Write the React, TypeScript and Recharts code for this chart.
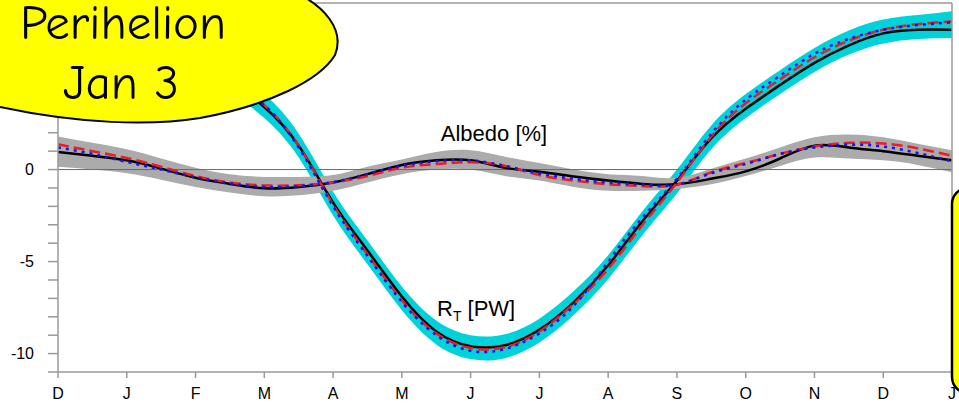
import { Area, ComposedChart, Line, ReferenceLine, XAxis, YAxis } from "recharts";

// sample positions in months from Dec (0) to the next Jan (13), half-month steps
const MONTH_T = [
  0, 0.5, 1, 1.5, 2, 2.5, 3, 3.5, 4, 4.5, 5, 5.5, 6, 6.5, 7, 7.5, 8, 8.5, 9, 9.5, 10, 10.5, 11, 11.5, 12, 12.5, 13,
];
const MONTH_TICKS = [0, 1, 2, 3, 4, 5, 6, 7, 8, 9, 10, 11, 12, 13];
const MONTH_LABELS = ["D", "J", "F", "M", "A", "M", "J", "J", "A", "S", "O", "N", "D", "J"];
const Y_TICKS = [-11, -10, -9, -8, -7, -6, -5, -4, -3, -2, -1, 0, 1, 2, 3, 4, 5, 6, 7, 8, 9];

// R_T [PW]
const RT_BLACK = [
  7.3, 7.5, 7.6, 7.0, 6.0, 4.8, 3.4, 1.3, -1.8, -4.4, -6.9, -8.8, -9.6, -9.55, -8.7, -7.2, -5.2, -2.8, -0.6, 1.7,
  3.3, 4.6, 5.8, 6.75, 7.4, 7.6, 7.6,
];
const RT_RED = [
  7.4, 7.6, 7.6, 7.1, 6.1, 4.9, 3.5, 1.3, -1.9, -4.6, -7.1, -8.9, -9.7, -9.65, -8.8, -7.3, -5.4, -3.0, -0.7, 1.8,
  3.6, 4.9, 6.1, 7.0, 7.6, 7.9, 8.05,
];
const RT_BLUE = [
  7.4, 7.6, 7.6, 7.1, 6.1, 4.9, 3.5, 1.2, -2.0, -4.7, -7.2, -9.0, -9.85, -9.75, -8.9, -7.4, -5.0, -2.6, -0.5, 1.95,
  3.8, 5.1, 6.3, 7.1, 7.6, 7.85, 8.0,
];
const RT_LOW = [
  6.7, 6.9, 6.95, 6.4, 5.4, 4.2, 2.8, 0.65, -2.5, -5.15, -7.65, -9.5, -10.3, -10.25, -9.4, -7.9, -5.95, -3.55, -1.3,
  1.1, 2.8, 4.1, 5.3, 6.25, 6.85, 7.1, 7.15,
];
const RT_HIGH = [
  8.0, 8.2, 8.25, 7.7, 6.7, 5.5, 4.1, 1.95, -1.2, -3.85, -6.35, -8.2, -9.0, -8.95, -8.1, -6.6, -4.65, -2.25, 0.0, 2.4,
  4.1, 5.4, 6.6, 7.55, 8.15, 8.4, 8.6,
];

// Albedo [%]
const ALB_BLACK = [
  0.96, 0.75, 0.5, 0.05, -0.45, -0.78, -1.02, -0.95, -0.7, -0.25, 0.25, 0.5, 0.5, 0.1, -0.12, -0.38, -0.6, -0.78,
  -0.8, -0.5, -0.1, 0.6, 1.3, 1.2, 1.0, 0.75, 0.5,
];
const ALB_RED = [
  1.38, 1.0, 0.63, 0.15, -0.35, -0.7, -0.86, -0.85, -0.7, -0.35, 0.1, 0.3, 0.4, 0.2, -0.3, -0.6, -0.8, -0.9, -0.82,
  -0.15, 0.35, 0.85, 1.25, 1.45, 1.42, 1.15, 0.75,
];
const ALB_BLUE = [
  1.2, 0.85, 0.41, 0.0, -0.42, -0.75, -0.95, -0.9, -0.68, -0.25, 0.2, 0.45, 0.5, 0.2, -0.2, -0.5, -0.7, -0.82, -0.82,
  -0.2, 0.3, 0.85, 1.2, 1.35, 1.25, 0.9, 0.45,
];
const ALB_LOW = [
  0.15, 0.0, -0.2, -0.55, -0.95, -1.25, -1.45, -1.4, -1.15, -0.7, -0.25, 0.0, 0.0, -0.35, -0.6, -0.95, -1.15, -1.15,
  -1.05, -0.8, -0.35, 0.2, 0.65, 0.6, 0.5, 0.25, -0.15,
];
const ALB_HIGH = [
  1.8, 1.45, 1.1, 0.6, 0.1, -0.25, -0.4, -0.4, -0.3, 0.15, 0.55, 0.95, 1.05, 0.7, 0.35, 0.0, -0.25, -0.35, -0.45,
  0.05, 0.6, 1.2, 1.75, 1.9, 1.75, 1.4, 1.05,
];

const data = MONTH_T.map((t, i) => ({
  t,
  rtBand: [RT_LOW[i], RT_HIGH[i]],
  albBand: [ALB_LOW[i], ALB_HIGH[i]],
  rtBlack: RT_BLACK[i],
  rtRed: RT_RED[i],
  rtBlue: RT_BLUE[i],
  albBlack: ALB_BLACK[i],
  albRed: ALB_RED[i],
  albBlue: ALB_BLUE[i],
}));

const AXIS = "#9a9a9a";
const FONT = '"Liberation Sans", Arial, Helvetica, sans-serif';
const tickStyle = { fill: "#000", fontSize: 16, fontFamily: FONT };
const CURVE = "natural";

export default function App() {
  return (
    <div style={{ position: "absolute", left: 0, top: 0, width: 959, height: 406, background: "#fff" }}>
      <ComposedChart width={959} height={406} data={data} margin={{ top: 0, right: 0, bottom: 0, left: 0 }}>
        <XAxis
          dataKey="t"
          type="number"
          domain={[0, 13]}
          ticks={MONTH_TICKS}
          tickFormatter={(v) => MONTH_LABELS[v] ?? ""}
          height={34}
          tickSize={6}
          tickMargin={10}
          stroke={AXIS}
          strokeWidth={1.5}
          tick={tickStyle}
          interval={0}
        />
        <XAxis
          xAxisId="top"
          orientation="top"
          type="number"
          dataKey="t"
          domain={[0, 13]}
          ticks={MONTH_TICKS}
          tick={false}
          height={3}
          tickSize={4}
          stroke={AXIS}
          strokeWidth={1.5}
        />
        <YAxis
          type="number"
          domain={[-11, 9.05]}
          ticks={Y_TICKS}
          interval={0}
          tickFormatter={(v) => (v % 5 === 0 ? String(v) : "")}
          width={58}
          tickSize={10}
          tickMargin={14}
          stroke={AXIS}
          strokeWidth={1.5}
          tick={tickStyle}
          allowDataOverflow
        />
        <YAxis
          yAxisId="right"
          orientation="right"
          type="number"
          domain={[-11, 9.05]}
          ticks={Y_TICKS}
          interval={0}
          tick={false}
          width={7}
          tickSize={7}
          stroke={AXIS}
          strokeWidth={1.5}
          allowDataOverflow
        />

        <Area type={CURVE} dataKey="rtBand" stroke="none" fill="#00d2da" fillOpacity={1} isAnimationActive={false} />
        <Area type={CURVE} dataKey="albBand" stroke="none" fill="#ababab" fillOpacity={1} isAnimationActive={false} />
        <ReferenceLine y={0} stroke="#6a6a6a" strokeWidth={1} />

        <Line type={CURVE} dataKey="albBlack" stroke="#000" strokeWidth={2.5} dot={false} activeDot={false} isAnimationActive={false} />
        <Line type={CURVE} dataKey="albRed" stroke="#ee1c25" strokeWidth={2.5} strokeDasharray="11 5" dot={false} activeDot={false} isAnimationActive={false} />
        <Line type={CURVE} dataKey="albBlue" stroke="#1414e6" strokeWidth={2.5} strokeDasharray="3 5" dot={false} activeDot={false} isAnimationActive={false} />
        <Line type={CURVE} dataKey="rtBlack" stroke="#000" strokeWidth={2.5} dot={false} activeDot={false} isAnimationActive={false} />
        <Line type={CURVE} dataKey="rtRed" stroke="#ee1c25" strokeWidth={2.5} strokeDasharray="11 5" dot={false} activeDot={false} isAnimationActive={false} />
        <Line type={CURVE} dataKey="rtBlue" stroke="#1414e6" strokeWidth={2.5} strokeDasharray="3 5" dot={false} activeDot={false} isAnimationActive={false} />
      </ComposedChart>

      {/* annotations */}
      <svg width={959} height={406} style={{ position: "absolute", left: 0, top: 0, pointerEvents: "none" }}>
        <text x={494} y={141} textAnchor="middle" fontSize={22} fontFamily={FONT} fill="#000">
          Albedo [%]
        </text>
        <text x={437} y={316} fontSize={22} fontFamily={FONT} fill="#000">
          R<tspan fontSize={14} dy={5}>T</tspan>
          <tspan dy={-5}> [PW]</tspan>
        </text>
        <path
          d="M 290 -10 C 325 5, 345 30, 335 55 C 320 80, 270 105, 200 118 C 150 126, 80 124, 0 107 L -20 100 L -20 -10 Z"
          fill="#ffff00"
          stroke="#000"
          strokeWidth={2}
        />
        <g fontFamily='"Comic Sans MS", "Comic Neue", "DejaVu Sans", sans-serif' fontSize={49} fill="#000" textAnchor="middle">
          <text x={123} y={39}>Perihelion</text>
          <text x={121} y={99}>Jan 3</text>
        </g>
        <rect x={952} y={188} width={40} height={205} rx={16} fill="#ffff00" stroke="#000" strokeWidth={2.5} />
      </svg>
    </div>
  );
}
